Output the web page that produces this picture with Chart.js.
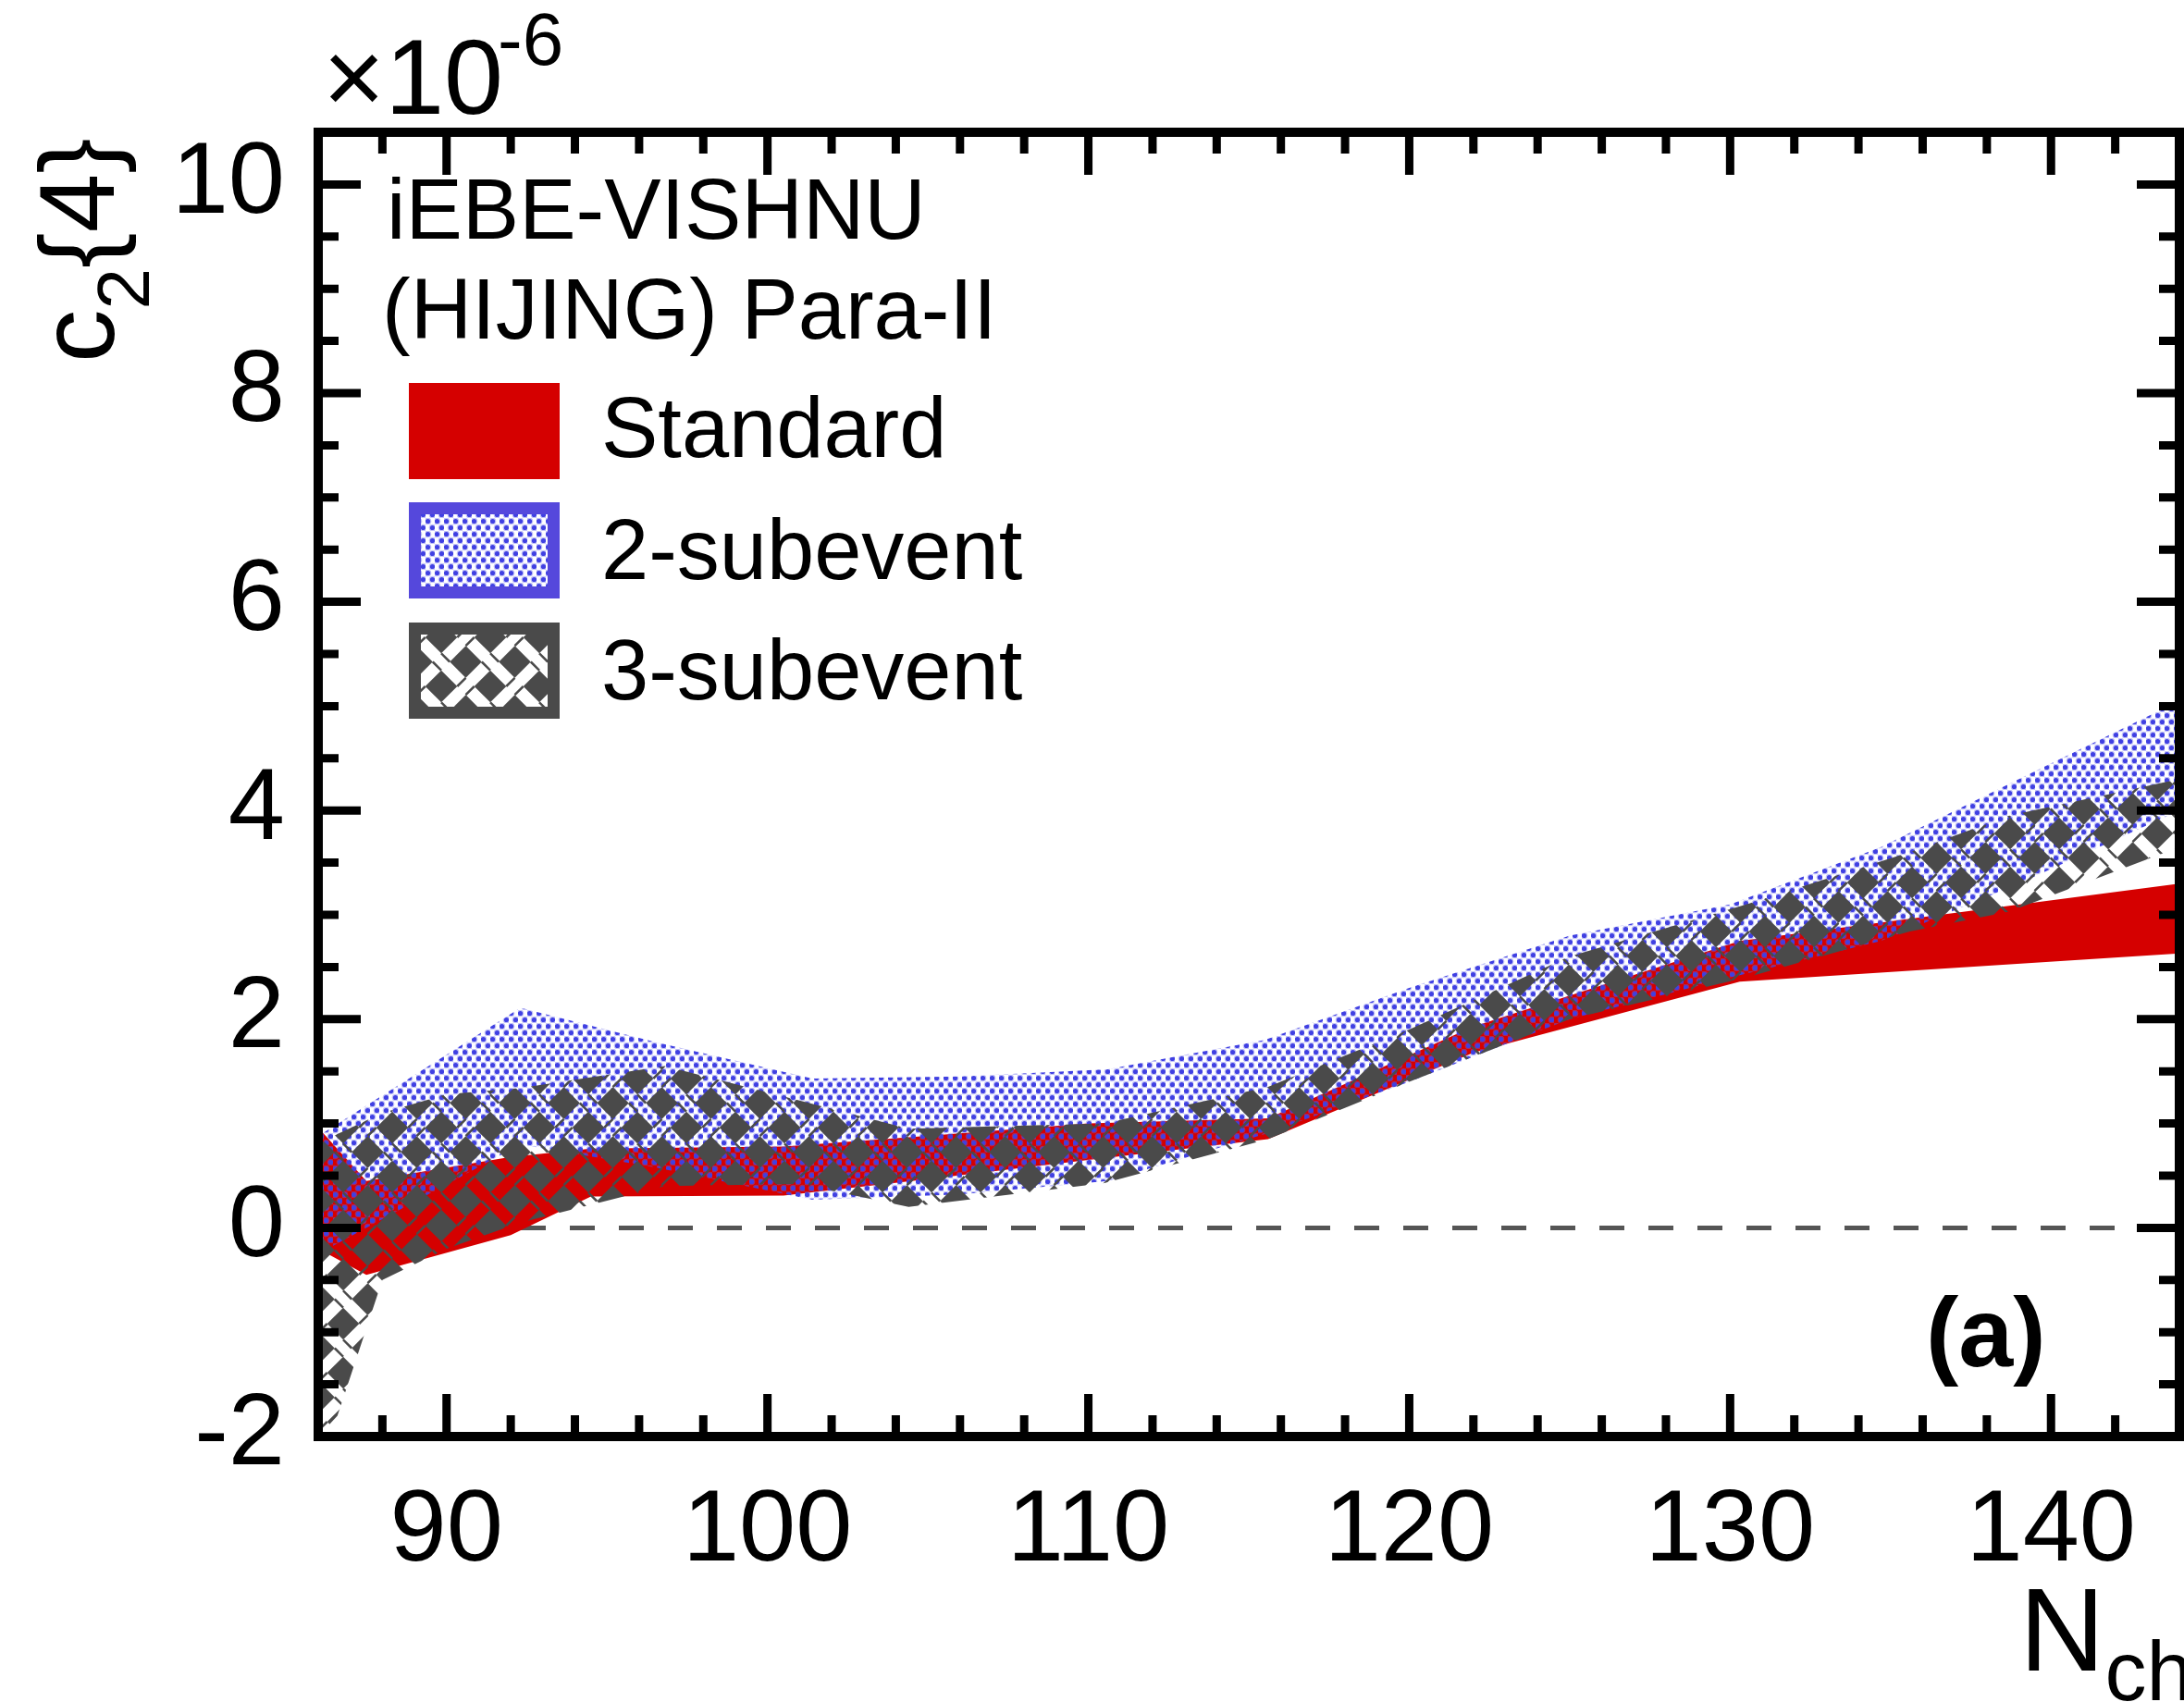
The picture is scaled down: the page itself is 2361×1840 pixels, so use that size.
<!DOCTYPE html>
<html>
<head>
<meta charset="utf-8">
<script src="https://cdn.jsdelivr.net/npm/chart.js@4.4.1/dist/chart.umd.min.js"></script>
<style>
  html, body { margin: 0; padding: 0; background: #fff; }
  canvas { display: block; }
</style>
</head>
<body>
<canvas id="c24Chart" width="2361" height="1840"></canvas>
<script>
// c2{4} bands vs N_ch, values in units of 1e-6
const stdN    = [86, 87.5, 92, 94.5, 100.5, 104.5, 110, 115.6, 122, 130.3, 144];
const stdHigh = [0.96, 0.45, 0.68, 0.76, 0.78, 0.87, 1.0, 1.05, 1.93, 2.75, 3.3];
const stdLow  = [-0.2, -0.45, -0.07, 0.3, 0.31, 0.45, 0.65, 0.85, 1.68, 2.36, 2.63];

const sub2N    = [86, 92.3, 96.5, 101.4, 106, 110.6, 115.5, 120, 125, 130, 134.7, 139, 144];
const sub2High = [0.88, 2.11, 1.78, 1.43, 1.45, 1.52, 1.8, 2.3, 2.8, 3.1, 3.65, 4.3, 5.05];
const sub2Low  = [-0.25, 0.8, 0.58, 0.27, 0.32, 0.45, 0.9, 1.4, 2.0, 2.4, 2.75, 3.3, 4.0];

const sub3N    = [86, 86.6, 88, 90, 92.3, 96.8, 101, 104.4, 110.5, 115.6, 120, 125, 130.5, 135.6, 138.7, 144];
const sub3High = [0.8, 0.9, 1.1, 1.28, 1.34, 1.55, 1.22, 0.95, 1.0, 1.35, 1.9, 2.6, 3.1, 3.6, 3.95, 4.3];
const sub3Low  = [-2.0, -1.8, -0.5, -0.2, 0.05, 0.4, 0.42, 0.2, 0.43, 0.85, 1.4, 2.0, 2.4, 2.84, 3.03, 3.65];

const xTicks = [90, 100, 110, 120, 130, 140];
const yTicks = [-2, 0, 2, 4, 6, 8, 10];
const xRange = [86, 144];
const yRange = [-2, 10.5];

const headerLines = ['iEBE-VISHNU', '(HIJING) Para-II'];
const legendLabels = ['Standard', '2-subevent', '3-subevent'];

const FONT = '"Liberation Sans", Arial, Helvetica, sans-serif';
const RED = '#d50000';
const BLUE = '#5548dc';
const GRAY = '#4a4a4a';

const pts = (xs, ys) => xs.map((v, i) => ({ x: v, y: ys[i] }));

// blue dotted fill (transparent background)
function dotPattern() {
    const c = document.createElement('canvas');
    c.width = 10; c.height = 14;
    const g = c.getContext('2d');
    [[2.5, 3.5], [7.5, 10.5]].forEach(([px, py]) => {
        g.fillStyle = 'rgba(100,100,235,0.40)';
        g.beginPath(); g.arc(px, py, 3.8, 0, Math.PI * 2); g.fill();
        g.fillStyle = '#4040e2';
        g.beginPath(); g.arc(px, py, 2.6, 0, Math.PI * 2); g.fill();
    });
    return g.createPattern(c, 'repeat');
}

// dark grey basket weave with see-through strands
function weavePattern() {
    const T = 53, L = T / Math.SQRT2, w = 13;
    const c = document.createElement('canvas');
    c.width = T; c.height = T;
    const g = c.getContext('2d');
    g.fillStyle = GRAY;
    g.fillRect(0, 0, T, T);
    g.save();
    g.rotate(Math.PI / 4);
    g.globalCompositeOperation = 'destination-out';
    for (let k = -5; k <= 5; k++) {
        g.fillRect(-300, L / 2 + k * L - w / 2, 600, w);
        g.fillRect(L / 2 + k * L - w / 2, -300, w, 600);
    }
    g.globalCompositeOperation = 'source-over';
    g.strokeStyle = GRAY;
    g.lineWidth = 2.5;
    g.beginPath();
    for (let i = -5; i <= 5; i++) {
        for (let j = -5; j <= 5; j++) {
            const u = L / 2 + i * L, v = L / 2 + j * L;
            if ((i + j) % 2 === 0) {
                g.moveTo(u - w / 2, v - w / 2); g.lineTo(u + w / 2, v - w / 2);
                g.moveTo(u - w / 2, v + w / 2); g.lineTo(u + w / 2, v + w / 2);
            } else {
                g.moveTo(u - w / 2, v - w / 2); g.lineTo(u - w / 2, v + w / 2);
                g.moveTo(u + w / 2, v - w / 2); g.lineTo(u + w / 2, v + w / 2);
            }
        }
    }
    g.stroke();
    g.restore();
    return g.createPattern(c, 'repeat');
}

const dots = dotPattern();
const weave = weavePattern();
const fills = [RED, dots, weave];
const borders = [RED, BLUE, GRAY];

const edge = { borderWidth: 0, borderColor: 'rgba(0,0,0,0)', pointRadius: 0, tension: 0 };

// frame, ticks and all the free text
const framePlugin = {
    id: 'frame',
    afterDraw(chart) {
        const { ctx, chartArea: a, scales: { x, y } } = chart;
        ctx.save();
        ctx.strokeStyle = '#000';
        ctx.lineCap = 'butt';

        ctx.lineWidth = 9;
        ctx.beginPath();
        for (let v = 88; v < xRange[1]; v += 2) {
            const px = x.getPixelForValue(v);
            const len = v % 10 === 0 ? 46 : 23;
            ctx.moveTo(px, a.bottom); ctx.lineTo(px, a.bottom - len);
            ctx.moveTo(px, a.top); ctx.lineTo(px, a.top + len);
        }
        for (let k = -3; k <= 20; k++) {
            const v = k / 2;
            const py = y.getPixelForValue(v);
            const len = k % 4 === 0 ? 46 : 22;
            ctx.moveTo(a.left, py); ctx.lineTo(a.left + len, py);
            ctx.moveTo(a.right, py); ctx.lineTo(a.right - len, py);
        }
        ctx.stroke();

        ctx.lineWidth = 10;
        ctx.strokeRect(a.left, a.top, a.right - a.left, a.bottom - a.top);

        ctx.fillStyle = '#000';
        ctx.textBaseline = 'alphabetic';
        ctx.textAlign = 'left';

        // axis multiplier
        ctx.font = `115px ${FONT}`;
        ctx.fillText('\u00d710', 349, 123);
        const mw = ctx.measureText('\u00d710').width;
        ctx.font = `80px ${FONT}`;
        ctx.fillText('-6', 349 + mw - 6, 70);

        // y title, rotated
        ctx.save();
        ctx.translate(123, 392);
        ctx.rotate(-Math.PI / 2);
        ctx.font = `115px ${FONT}`;
        ctx.fillText('c', 0, 0);
        let tx = ctx.measureText('c').width;
        ctx.font = `80px ${FONT}`;
        ctx.fillText('2', tx, 38);
        tx += ctx.measureText('2').width;
        ctx.font = `115px ${FONT}`;
        ctx.fillText('{4}', tx, 0);
        ctx.restore();

        // header
        ctx.font = `92px ${FONT}`;
        ctx.fillText(headerLines[0], 418, 258);
        ctx.fillText(headerLines[1], 413, 366);

        // legend entries
        const boxTop = [414, 543, 673];
        const baseLine = [494, 626, 756];
        legendLabels.forEach((label, i) => {
            const bx = 442, by = boxTop[i], bw = 163, bh = 104;
            if (i === 0) {
                ctx.fillStyle = RED;
                ctx.fillRect(bx, by, bw, bh);
            } else {
                ctx.fillStyle = '#fff';
                ctx.fillRect(bx, by, bw, bh);
                ctx.fillStyle = fills[i];
                ctx.fillRect(bx, by, bw, bh);
                ctx.strokeStyle = borders[i];
                ctx.lineWidth = 13;
                ctx.strokeRect(bx + 6.5, by + 6.5, bw - 13, bh - 13);
            }
            ctx.fillStyle = '#000';
            ctx.font = `92px ${FONT}`;
            ctx.fillText(label, 650, baseLine[i]);
        });

        // panel tag
        ctx.font = `bold 106px ${FONT}`;
        ctx.fillText('(a)', 2082, 1477);

        // x title
        ctx.font = `128px ${FONT}`;
        ctx.fillText('N', 2183, 1806);
        const nw = ctx.measureText('N').width;
        ctx.font = `90px ${FONT}`;
        ctx.fillText('ch', 2183 + nw, 1838);

        ctx.restore();
    }
};

const tickFont = { family: FONT, size: 110 };

new Chart(document.getElementById('c24Chart'), {
    type: 'line',
    data: {
        datasets: [
            { label: '3-subevent low', data: pts(sub3N, sub3Low), ...edge, fill: false, order: 1 },
            { label: legendLabels[2], data: pts(sub3N, sub3High), ...edge, fill: '-1', backgroundColor: weave, order: 1 },
            { label: '2-subevent low', data: pts(sub2N, sub2Low), ...edge, fill: false, order: 2 },
            { label: legendLabels[1], data: pts(sub2N, sub2High), ...edge, fill: '-1', backgroundColor: dots, order: 2 },
            { label: 'Standard low', data: pts(stdN, stdLow), ...edge, fill: false, order: 3 },
            { label: legendLabels[0], data: pts(stdN, stdHigh), ...edge, fill: '-1', backgroundColor: RED, order: 3 },
            {
                label: 'zero', data: pts(xRange, [0, 0]), fill: false, order: 4,
                borderColor: '#555', borderWidth: 5, borderDash: [27, 26], borderDashOffset: -7,
                pointRadius: 0
            }
        ]
    },
    options: {
        responsive: false,
        animation: false,
        devicePixelRatio: 1,
        layout: { padding: { top: 143, right: 5, bottom: 0, left: 0 } },
        plugins: { legend: { display: false }, tooltip: { enabled: false } },
        scales: {
            x: {
                type: 'linear', position: 'bottom',
                min: xRange[0], max: xRange[1],
                grid: { display: false }, border: { display: false },
                ticks: { font: tickFont, color: '#000', padding: 30, maxRotation: 0, autoSkip: false },
                afterBuildTicks: s => { s.ticks = xTicks.map(v => ({ value: v })); },
                afterFit: s => { s.height = 1840 - 1553; }
            },
            y: {
                type: 'linear',
                min: yRange[0], max: yRange[1],
                grid: { display: false }, border: { display: false },
                ticks: { font: tickFont, color: '#000', padding: 28, autoSkip: false },
                afterBuildTicks: s => { s.ticks = yTicks.map(v => ({ value: v })); },
                afterFit: s => { s.width = 344; }
            }
        }
    },
    plugins: [framePlugin]
});
</script>
</body>
</html>
